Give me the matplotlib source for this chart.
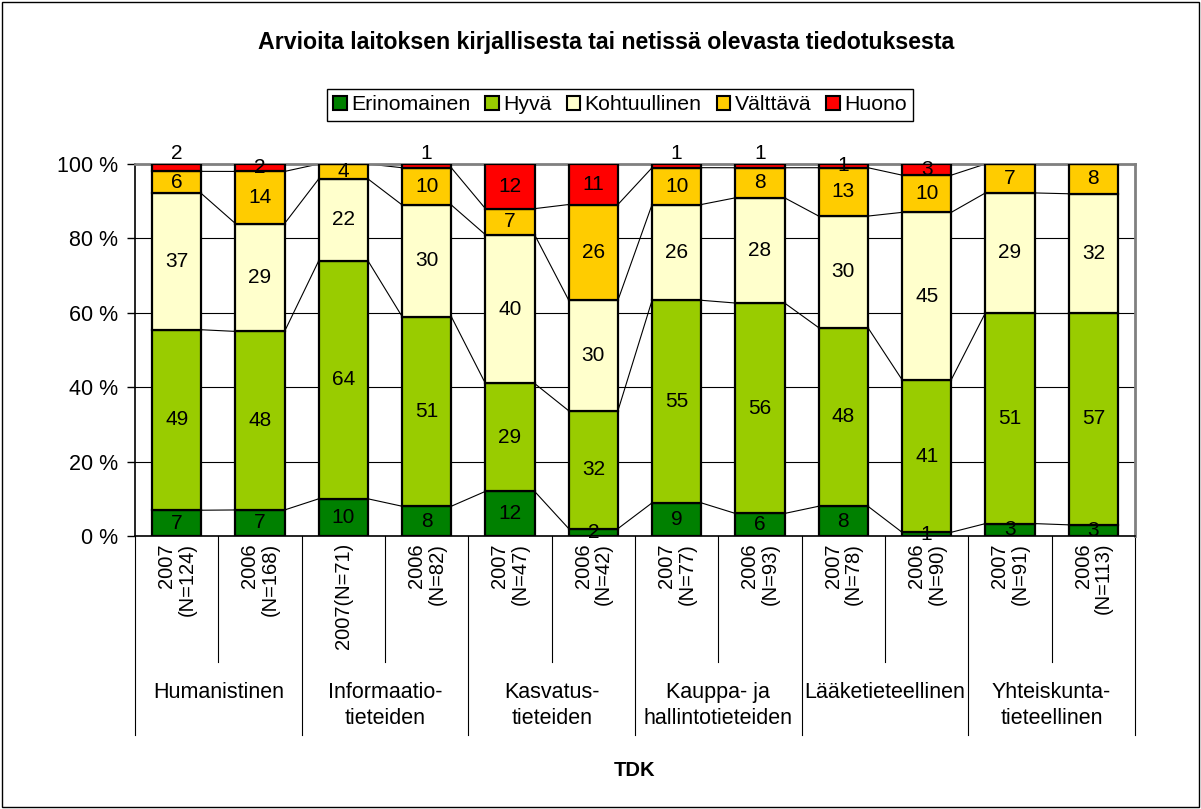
import numpy as np
import matplotlib
matplotlib.use("Agg")
import matplotlib.pyplot as plt
from matplotlib.patches import Patch, Rectangle
from matplotlib.transforms import blended_transform_factory

plt.rcParams['font.family'] = ['Liberation Sans', 'DejaVu Sans']

# datat (prosentit, kuten kuvassa)
series = ['Erinomainen', 'Hyvä', 'Kohtuullinen', 'Välttävä', 'Huono']
colors = ['#008000', '#99CC00', '#FFFFCC', '#FFCC00', '#FF0000']
bar_labels = ['2007\n(N=124)', '2006\n(N=168)', '2007(N=71)', '2006\n(N=82)',
              '2007\n(N=47)', '2006\n(N=42)', '2007\n(N=77)', '2006\n(N=93)',
              '2007\n(N=78)', '2006\n(N=90)', '2007\n(N=91)', '2006\n(N=113)']
groups = ['Humanistinen', 'Informaatio-\ntieteiden', 'Kasvatus-\ntieteiden',
          'Kauppa- ja\nhallintotieteiden', 'Lääketieteellinen', 'Yhteiskunta-\ntieteellinen']
erinomainen = [7, 7, 10, 8, 12, 2, 9, 6, 8, 1, 3, 3]
hyva = [49, 48, 64, 51, 29, 32, 55, 56, 48, 41, 51, 57]
kohtuullinen = [37, 29, 22, 30, 40, 30, 26, 28, 30, 45, 29, 32]
valttava = [6, 14, 4, 10, 7, 26, 10, 8, 13, 10, 7, 8]
huono = [2, 2, 0, 1, 12, 11, 1, 1, 1, 3, 0, 0]

vals = np.array([erinomainen, hyva, kohtuullinen, valttava, huono], dtype=float)
pct = vals / vals.sum(axis=0) * 100
cum = np.cumsum(pct, axis=0)
x = np.arange(len(bar_labels))
w = 0.59

fig = plt.figure(figsize=(12.01, 8.09), dpi=100)
ax = fig.add_axes([135 / 1201, 1 - 536 / 809, 1000 / 1201, (536 - 164) / 809])

bottom = np.zeros(len(x))
for k in range(len(series)):
    ax.bar(x, pct[k], w, bottom=bottom, color=colors[k], edgecolor='black',
           linewidth=1.6, zorder=3)
    for i in range(len(x)):
        if vals[k, i] > 0:
            yc = bottom[i] + pct[k, i] / 2
            # pieni ylin arvo nostetaan pylvään yläpuolelle jos se menisi päällekkäin
            if k == len(series) - 1 and yc - (bottom[i] - pct[k - 1, i] / 2) < 6:
                ax.text(x[i], 100.2, '%d' % vals[k, i], ha='center', va='bottom',
                        fontsize=15, zorder=4, clip_on=False)
            else:
                ax.text(x[i], yc, '%d' % vals[k, i],
                        ha='center', va='center', fontsize=15, zorder=4)
    bottom = bottom + pct[k]

# sarjaviivat
for k in range(4):
    for i in range(len(x) - 1):
        ax.plot([x[i] + w / 2, x[i + 1] - w / 2], [cum[k, i], cum[k, i + 1]],
                color='black', lw=0.8, zorder=2)

ax.set_xlim(-0.5, len(x) - 0.5)
ax.set_ylim(0, 100)
ax.set_yticks([0, 20, 40, 60, 80, 100])
ax.set_yticklabels(['0 %', '20 %', '40 %', '60 %', '80 %', '100 %'], fontsize=15.5)
ax.tick_params(axis='y', length=6, width=1, pad=6)
ax.set_xticks([])
ax.yaxis.grid(True, color='black', lw=0.8, zorder=0)
for s in ['top', 'right']:
    ax.spines[s].set_color('#808080')
    ax.spines[s].set_linewidth(2)
ax.spines['left'].set_linewidth(1.2)
ax.spines['bottom'].set_linewidth(1.2)

# kategoriat alle
tr = blended_transform_factory(ax.transData, ax.transAxes)
axh = (536 - 164)
def py(p):
    return -(p - 536) / axh
for i in range(len(x) + 1):
    xs = i - 0.5
    y_end = 735 if i % 2 == 0 else 662
    ax.plot([xs, xs], [0, py(y_end)], color='black', lw=0.8, transform=tr, clip_on=False)
for i, lab in enumerate(bar_labels):
    ax.text(x[i], py(543), lab, transform=tr, rotation=90, ha='center', va='top',
            multialignment='right', fontsize=14.5, linespacing=1.1)
for g, lab in enumerate(groups):
    ax.text(2 * g + 0.5, py(682), lab, transform=tr, ha='center', va='top',
            fontsize=15.5, linespacing=1.3)

fig.text(0.505, 1 - 43 / 809, 'Arvioita laitoksen kirjallisesta tai netissä olevasta tiedotuksesta',
         ha='center', va='center', fontsize=16.7, fontweight='bold')
ax.text(0.5, py(771), 'TDK', transform=ax.transAxes, ha='center', va='center',
        fontsize=14.5, fontweight='bold')

handles = [Patch(facecolor=c, edgecolor='black', lw=1.5) for c in colors]
fig.legend(handles, series, loc='center', bbox_to_anchor=(620 / 1201, 1 - 105 / 809),
           ncol=5, fontsize=15.3, frameon=True, fancybox=False, edgecolor='black',
           handlelength=0.65, handleheight=0.65, handletextpad=0.2, columnspacing=0.7,
           borderpad=0.3, framealpha=1)

fig.patches.append(Rectangle((0.002, 0.002), 0.996, 0.995, transform=fig.transFigure,
                             fill=False, edgecolor='black', lw=1))

fig.savefig('out.png', dpi=100)
